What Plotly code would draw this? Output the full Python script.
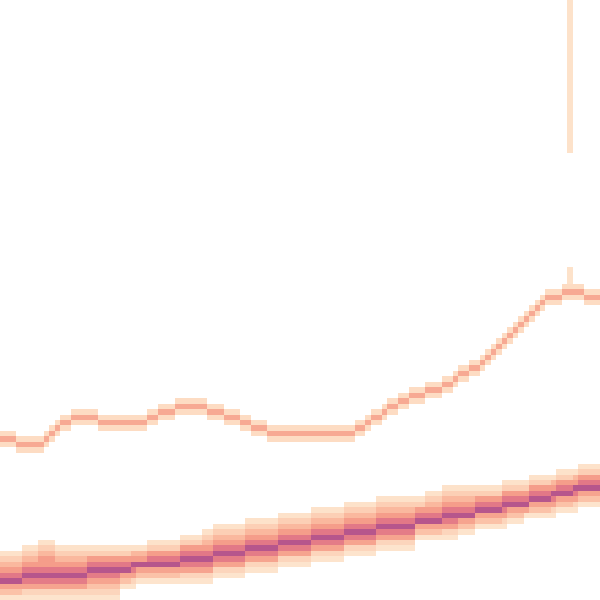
import numpy as np
import plotly.graph_objects as go

N_COLS = 110
N_ROWS = 110

# Row index (0 = top) of the upper single line, one value per column
top_line_row = [
    80, 80, 80, 81, 81, 81, 81, 81, 80, 79,
    78, 77, 77, 76, 76, 76, 76, 76, 77, 77,
    77, 77, 77, 77, 77, 77, 77, 76, 76, 75,
    75, 75, 74, 74, 74, 74, 74, 74, 75, 75,
    75, 76, 76, 76, 77, 77, 78, 78, 78, 79,
    79, 79, 79, 79, 79, 79, 79, 79, 79, 79,
    79, 79, 79, 79, 79, 78, 78, 77, 76, 76,
    75, 74, 74, 73, 73, 72, 72, 72, 71, 71,
    71, 70, 70, 69, 68, 68, 67, 67, 66, 65,
    64, 63, 62, 61, 60, 59, 58, 57, 56, 55,
    54, 54, 54, 53, 53, 53, 53, 54, 54, 54,
]
top_line_core = 0.45
top_line_edge = 0.14

# Dense band: darkest row, upper and lower edge rows per column
band_center_row = [
    106, 106, 106, 106, 105, 105, 105, 105, 105, 105,
    105, 105, 105, 105, 105, 105, 104, 104, 104, 104,
    104, 104, 104, 104, 103, 103, 103, 103, 103, 103,
    103, 103, 103, 102, 102, 102, 102, 102, 102, 101,
    101, 101, 101, 101, 101, 100, 100, 100, 100, 100,
    100, 99, 99, 99, 99, 99, 99, 98, 98, 98,
    98, 98, 98, 97, 97, 97, 97, 97, 97, 96,
    96, 96, 96, 96, 96, 96, 95, 95, 95, 95,
    95, 94, 94, 94, 94, 94, 94, 93, 93, 93,
    93, 93, 92, 92, 92, 92, 92, 91, 91, 91,
    91, 90, 90, 90, 90, 89, 89, 89, 89, 89,
]
band_top_row = [
    101, 101, 101, 101, 100, 100, 100, 99, 99, 99,
    100, 100, 100, 100, 100, 100, 100, 100, 100, 100,
    100, 100, 100, 100, 100, 100, 100, 99, 99, 99,
    99, 99, 99, 98, 98, 98, 98, 97, 97, 96,
    96, 96, 96, 96, 96, 95, 95, 95, 95, 95,
    95, 94, 94, 94, 94, 94, 94, 93, 93, 93,
    93, 93, 93, 92, 92, 92, 92, 92, 92, 91,
    91, 91, 91, 91, 91, 91, 91, 91, 90, 90,
    90, 89, 89, 89, 89, 89, 89, 89, 89, 89,
    89, 89, 88, 88, 88, 88, 88, 87, 87, 87,
    87, 87, 86, 86, 86, 86, 85, 85, 85, 85,
]
band_bottom_row = [
    109, 109, 109, 109, 109, 109, 109, 109, 109, 109,
    109, 109, 109, 109, 109, 109, 109, 109, 109, 109,
    109, 109, 107, 107, 107, 106, 106, 106, 106, 106,
    106, 106, 106, 106, 106, 106, 106, 106, 106, 105,
    105, 105, 105, 105, 105, 104, 104, 104, 104, 104,
    104, 103, 103, 103, 103, 103, 103, 102, 102, 102,
    102, 102, 102, 101, 101, 101, 101, 101, 101, 100,
    100, 100, 100, 100, 100, 100, 98, 98, 98, 98,
    98, 98, 98, 98, 97, 97, 97, 96, 96, 96,
    96, 96, 96, 95, 95, 95, 94, 94, 94, 94,
    94, 94, 93, 93, 93, 93, 92, 92, 92, 92,
]
# Level of a band cell by step away from the darkest row (0..5)
band_levels_above = [1.0, 0.72, 0.52, 0.36, 0.22, 0.1]
band_levels_below = [1.0, 0.70, 0.48, 0.30, 0.18, 0.08]

# Vertical spike on the right
spike_col = 104
spike_rows_top = list(range(0, 28))
spike_rows_low = [49, 50, 51]
spike_level = 0.1

colorscale = [
    [0.0, "rgb(254,235,215)"],
    [0.1, "rgb(253,226,202)"],
    [0.22, "rgb(252,207,181)"],
    [0.36, "rgb(250,184,158)"],
    [0.52, "rgb(245,157,138)"],
    [0.72, "rgb(226,120,135)"],
    [1.0, "rgb(182,86,140)"],
]

z = np.full((N_ROWS, N_COLS), np.nan)


def put(r, c, v):
    if 0 <= r < N_ROWS and 0 <= c < N_COLS:
        if np.isnan(z[r, c]) or z[r, c] < v:
            z[r, c] = v


# band
for c in range(N_COLS):
    cen = band_center_row[c]
    put(cen, c, band_levels_above[0])
    e = cen - band_top_row[c]
    for k in range(1, e + 1):
        idx = max(1, min(5, round(k * 5 / e)))
        put(cen - k, c, band_levels_above[idx])
    e = band_bottom_row[c] - cen
    for k in range(1, e + 1):
        idx = max(1, min(5, round(k * 5 / e)))
        put(cen + k, c, band_levels_below[idx])

# top line
for c in range(N_COLS):
    r = top_line_row[c]
    put(r, c, top_line_core)
    put(r - 1, c, top_line_edge)
    put(r + 1, c, top_line_edge)

# spike
for r in spike_rows_top + spike_rows_low:
    put(r, spike_col, spike_level)

fig = go.Figure(
    go.Heatmap(
        z=z,
        x=list(range(N_COLS)),
        y=list(range(N_ROWS)),
        colorscale=colorscale,
        zmin=0,
        zmax=1,
        showscale=False,
        hoverongaps=False,
    )
)
fig.update_layout(
    width=600,
    height=600,
    margin=dict(l=0, r=0, t=0, b=0),
    paper_bgcolor="white",
    plot_bgcolor="white",
    xaxis=dict(visible=False, range=[-0.5, N_COLS - 0.5]),
    yaxis=dict(visible=False, range=[N_ROWS - 0.5, -0.5]),
)
fig.write_html(
    "out.html",
    config={"displayModeBar": False},
    post_script="document.body.style.margin='0';document.body.style.overflow='hidden';",
)
